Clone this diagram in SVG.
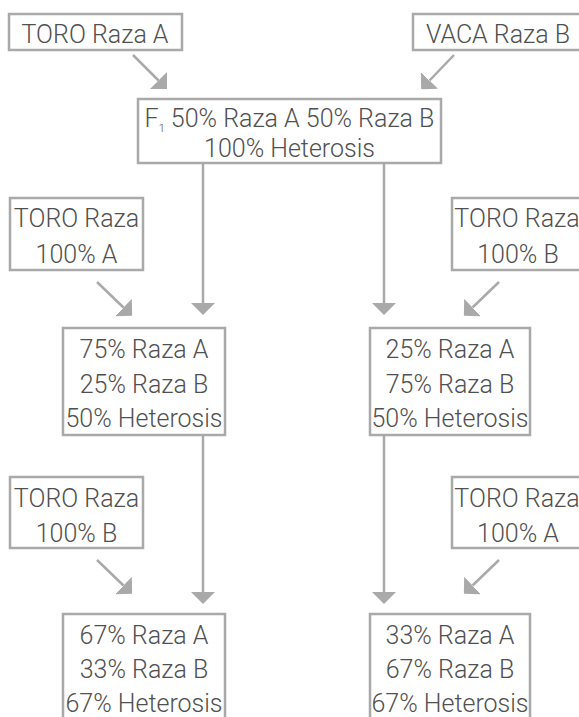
<svg xmlns="http://www.w3.org/2000/svg" width="579" height="717" viewBox="0 0 579 717">
<style>
.box{fill:#fff;stroke:#a9a9a9;stroke-width:2.5}
.t{font-family:Roboto,"Liberation Sans",Arial,sans-serif;font-weight:300;font-size:25px;fill:#505050;text-anchor:middle}
.c{stroke:#a9a9a9;stroke-width:2.5;fill:none}
</style>
<defs>
<marker id="ah" markerUnits="userSpaceOnUse" viewBox="0 0 12 24" refX="0" refY="12" markerWidth="12" markerHeight="24" orient="auto">
<path d="M0,0 L12,12 L0,24 Z" fill="#a9a9a9"/>
</marker>
</defs>
<rect width="579" height="717" fill="#fff"/>
<g id="connectors">
<line class="c" x1="133" y1="55" x2="158.5" y2="80.5" marker-end="url(#ah)"/>
<line class="c" x1="454" y1="55" x2="429.5" y2="80.5" marker-end="url(#ah)"/>
<line class="c" x1="203" y1="164" x2="203" y2="303" marker-end="url(#ah)"/>
<line class="c" x1="384" y1="164" x2="384" y2="303" marker-end="url(#ah)"/>
<line class="c" x1="97" y1="282" x2="123.5" y2="307.5" marker-end="url(#ah)"/>
<line class="c" x1="499" y1="282" x2="472.5" y2="307.5" marker-end="url(#ah)"/>
<line class="c" x1="203" y1="436" x2="203" y2="592" marker-end="url(#ah)"/>
<line class="c" x1="384" y1="436" x2="384" y2="592" marker-end="url(#ah)"/>
<line class="c" x1="97" y1="560" x2="123.5" y2="585.5" marker-end="url(#ah)"/>
<line class="c" x1="499" y1="560" x2="472.5" y2="585.5" marker-end="url(#ah)"/>
</g>
<g id="toro-a">
<rect class="box" x="9" y="14" width="173" height="36"/>
<text class="t" x="95" y="43">TORO Raza A</text>
</g>
<g id="vaca-b">
<rect class="box" x="413" y="14" width="170" height="36"/>
<text class="t" x="498" y="43">VACA Raza B</text>
</g>
<g id="f1">
<rect class="box" x="138" y="99" width="303" height="64"/>
<text class="t" x="289.5" y="127">F<tspan font-size="11" dy="5">1</tspan><tspan dy="-5"> 50% Raza A 50% Raza B</tspan></text>
<text class="t" x="289.5" y="157">100% Heterosis</text>
</g>
<g id="toro-100a-left">
<rect class="box" x="10" y="198" width="133" height="72"/>
<text class="t" x="76.5" y="227">TORO Raza</text>
<text class="t" x="76.5" y="263">100% A</text>
</g>
<g id="toro-100b-right">
<rect class="box" x="452" y="198" width="140" height="72"/>
<text class="t" x="517" y="227">TORO Raza</text>
<text class="t" x="518" y="263">100% B</text>
</g>
<g id="gen2-left">
<rect class="box" x="63" y="328" width="162" height="107"/>
<text class="t" x="144" y="358">75% Raza A</text>
<text class="t" x="144" y="393">25% Raza B</text>
<text class="t" x="144" y="427">50% Heterosis</text>
</g>
<g id="gen2-right">
<rect class="box" x="370" y="328" width="160" height="107"/>
<text class="t" x="450" y="358">25% Raza A</text>
<text class="t" x="450" y="393">75% Raza B</text>
<text class="t" x="450" y="427">50% Heterosis</text>
</g>
<g id="toro-100b-left">
<rect class="box" x="10" y="477" width="133" height="71"/>
<text class="t" x="76.5" y="507">TORO Raza</text>
<text class="t" x="76.5" y="542">100% B</text>
</g>
<g id="toro-100a-right">
<rect class="box" x="452" y="477" width="140" height="71"/>
<text class="t" x="517" y="507">TORO Raza</text>
<text class="t" x="518" y="542">100% A</text>
</g>
<g id="gen3-left">
<rect class="box" x="63" y="614" width="162" height="120"/>
<text class="t" x="144" y="644">67% Raza A</text>
<text class="t" x="144" y="678">33% Raza B</text>
<text class="t" x="144" y="712">67% Heterosis</text>
</g>
<g id="gen3-right">
<rect class="box" x="370" y="614" width="160" height="120"/>
<text class="t" x="450" y="644">33% Raza A</text>
<text class="t" x="450" y="678">67% Raza B</text>
<text class="t" x="450" y="712">67% Heterosis</text>
</g>
</svg>
